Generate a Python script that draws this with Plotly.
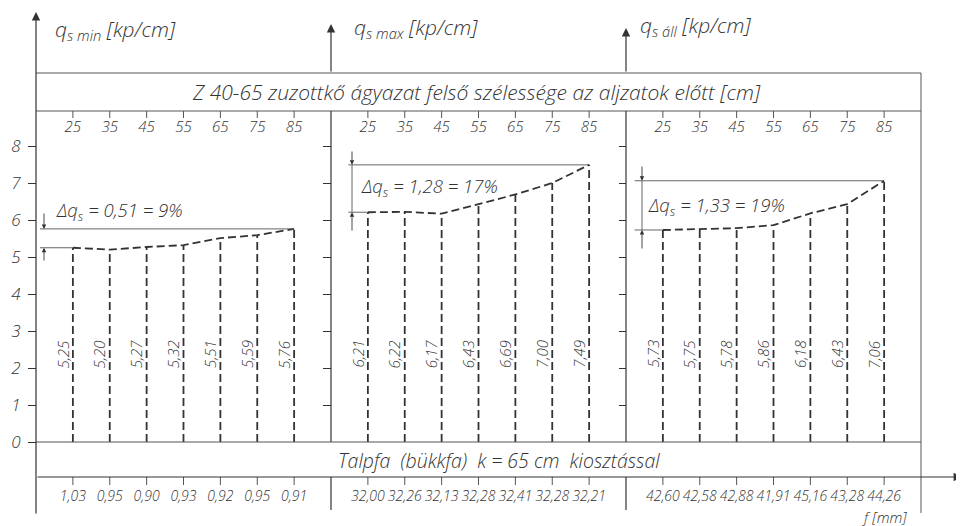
import plotly.graph_objects as go

# ---------------- data ----------------
widths = ["25", "35", "45", "55", "65", "75", "85"]          # ágyazat szélesség [cm]
qs_min = [5.25, 5.20, 5.27, 5.32, 5.51, 5.59, 5.76]
qs_max = [6.21, 6.22, 6.17, 6.43, 6.69, 7.00, 7.49]
qs_all = [5.73, 5.75, 5.78, 5.86, 6.18, 6.43, 7.06]
f_min = ["1,03", "0,95", "0,90", "0,93", "0,92", "0,95", "0,91"]
f_max = ["32,00", "32,26", "32,13", "32,28", "32,41", "32,28", "32,21"]
f_all = ["42,60", "42,58", "42,88", "41,91", "45,16", "43,28", "44,26"]
panel_titles = ["q<sub>s min</sub> [kp/cm]", "q<sub>s max</sub> [kp/cm]", "q<sub>s áll</sub> [kp/cm]"]
delta_texts = ["0,51 = 9%", "1,28 = 17%", "1,33 = 19%"]
y_ticks = [0, 1, 2, 3, 4, 5, 6, 7, 8]
top_text = "Z 40-65 zuzottkő ágyazat felső szélessége az aljzatok előtt [cm]"
bottom_text = "Talpfa  (bükkfa)  k = 65 cm  kiosztással"

# ---------------- geometry (reference pixel frame; page has an 8px body margin) ----------------
PAGE_W, PAGE_H, OFF = 964, 526, 8
W, H = PAGE_W - OFF, PAGE_H - OFF
ux = (921 - 36) / 24.0
uy = 37.0


def py(p):  # reference pixel row -> data y
    return (442 - p) / uy


def px(p):  # reference pixel col -> data x
    return (p - 36) / ux


xr = [px(OFF), px(PAGE_W)]
yr = [py(PAGE_H), py(OFF)]

INK = "#333333"
THIN = "#555555"
FONT = "Open Sans"

series = [qs_min, qs_max, qs_all]
fvals = [f_min, f_max, f_all]
offsets = [0, 8, 16]

fig = go.Figure()
shapes = []
annotations = []


def hline(x0, x1, y, w=1.0, c=THIN):
    shapes.append(dict(type="line", xref="x", yref="y", x0=x0, x1=x1, y0=y, y1=y,
                       line=dict(color=c, width=w)))


def vline(x, y0, y1, w=1.0, c=THIN):
    shapes.append(dict(type="line", xref="x", yref="y", x0=x, x1=x, y0=y0, y1=y1,
                       line=dict(color=c, width=w)))


def arrow(hx, hy, tx, ty, w=1.0, size=1.0, head=2, c=INK):
    annotations.append(dict(x=hx, y=hy, ax=tx, ay=ty, xref="x", yref="y", axref="x", ayref="y",
                            text="", showarrow=True, arrowhead=head, arrowsize=size,
                            arrowwidth=w, arrowcolor=c))


tfont = dict(family=FONT, size=14, color=INK, style="italic", weight=300)

for k in range(3):
    off = offsets[k]
    xs = [off + 1 + i for i in range(7)]
    vals = series[k]
    vx, vy = [], []
    for x, v in zip(xs, vals):
        vx += [x, x, None]
        vy += [0, v, None]
    fig.add_trace(go.Scatter(x=vx, y=vy, mode="lines", showlegend=False, hoverinfo="skip",
                             line=dict(color=INK, width=1.8, dash="8px,4px")))
    fig.add_trace(go.Scatter(x=xs, y=vals, mode="lines", showlegend=False, hoverinfo="skip",
                             line=dict(color=INK, width=1.8, dash="8px,4px")))
    # top category labels
    fig.add_trace(go.Scatter(x=xs, y=[py(128)] * 7, mode="text", text=widths, showlegend=False,
                             hoverinfo="skip", textfont=dict(tfont, size=15)))
    # bottom f labels
    fig.add_trace(go.Scatter(x=xs, y=[py(497)] * 7, mode="text", text=fvals[k], showlegend=False,
                             hoverinfo="skip", textfont=dict(tfont, size=14)))
    # value labels (rotated)
    for x, v in zip(xs, vals):
        annotations.append(dict(x=x - 0.28, y=py(354), xref="x", yref="y", showarrow=False,
                                text=f"{v:.2f}".replace(".", ","), textangle=-90,
                                font=dict(tfont, size=15)))
    # tick marks in bands
    for x in xs:
        vline(x, py(111), py(118))
        vline(x, py(477), py(485))

# ---------- Δq annotations ----------
# panel 1
hline(px(40), 7, qs_min[6], 0.9)
hline(px(40), 1, qs_min[0], 0.9)
arrow(px(44), qs_min[6], px(44), py(212), w=0.9, size=1.0)
arrow(px(44), qs_min[0], px(44), py(262), w=0.9, size=1.0)
# panel 2
x2 = px(352)
hline(x2 - 0.1, 15, qs_max[6], 0.9)
hline(x2 - 0.1, 9, qs_max[0], 0.9)
vline(x2, qs_max[0], qs_max[6], 0.9)
arrow(x2, qs_max[6], x2, py(150), w=0.9)
arrow(x2, qs_max[0], x2, py(232), w=0.9)
# panel 3
x3 = px(642)
hline(x3 - 0.2, 23, qs_all[6], 0.9)
hline(x3 - 0.2, 17, qs_all[0], 0.9)
vline(x3, qs_all[0], qs_all[6], 0.9)
arrow(x3, qs_all[6], x3, py(165), w=0.9)
arrow(x3, qs_all[0], x3, py(250), w=0.9)

dpos = [(px(54), py(211)), (px(359), py(187)), (px(646), py(206))]
for (dx, dy), t in zip(dpos, delta_texts):
    annotations.append(dict(x=dx, y=dy, xref="x", yref="y", xanchor="left", showarrow=False,
                            text="Δq<sub>s</sub> = " + t, font=dict(tfont, size=18.5)))

# ---------- axis titles ----------
tpos = [(px(53), py(30)), (px(352), py(28)), (px(638), py(26))]
for (tx, ty), t in zip(tpos, panel_titles):
    annotations.append(dict(x=tx, y=ty, xref="x", yref="y", xanchor="left", showarrow=False,
                            text=t, font=dict(tfont, size=21)))

# ---------- frame ----------
hline(0, 24, py(73))
hline(0, 24, py(111))
hline(0, 24, 0, 1.0)
vline(24, py(73), py(513))
# left axis arrow
arrow(0, py(12), 0, py(515), w=1.2, size=1.4)
# middle / right axis lines (interrupted by the text bands)
for xb, tip in [(8, py(24)), (16, py(28))]:
    arrow(xb, tip, xb, py(73), w=1.2, size=1.4)
    vline(xb, py(111), 0, 1.2, INK)
    vline(xb, py(477), py(510), 1.2, INK)
# horizontal f axis arrow
arrow(px(962), py(477), 0, py(477), w=1.2, size=1.4)

annotations.append(dict(x=px(476), y=py(92), xref="x", yref="y", showarrow=False,
                        text=top_text, font=dict(tfont, size=21)))
annotations.append(dict(x=px(499), y=py(460), xref="x", yref="y", showarrow=False,
                        text=bottom_text, font=dict(tfont, size=19.5)))
annotations.append(dict(x=px(884), y=py(516.5), xref="x", yref="y", showarrow=False,
                        text="f [mm]", font=dict(tfont, size=15)))

# dummy traces for the extra tick axes
for ya in ["y2", "y3"]:
    fig.add_trace(go.Scatter(x=[0], y=[0], yaxis=ya, mode="markers", showlegend=False,
                             hoverinfo="skip", marker=dict(opacity=0)))

common_y = dict(range=yr, showgrid=False, zeroline=False, showline=False, ticks="outside",
                tickcolor=INK, tickwidth=1, fixedrange=True)
fig.update_layout(
    width=W, height=H,
    margin=dict(l=0, r=0, t=0, b=0),
    paper_bgcolor="white", plot_bgcolor="white",
    xaxis=dict(range=xr, visible=False, domain=[0, 1], fixedrange=True),
    yaxis=dict(common_y, tickvals=y_ticks, ticklen=8, anchor="free", position=(36 - OFF) / W,
               tickfont=dict(family=FONT, size=17, color=INK, style="italic", weight=300),
               ticklabelstandoff=4),
    yaxis2=dict(common_y, tickvals=y_ticks[1:], ticklen=8, overlaying="y", anchor="free",
                position=(36 + 8 * ux - OFF) / W, showticklabels=False),
    yaxis3=dict(common_y, tickvals=y_ticks[1:], ticklen=7, overlaying="y", anchor="free",
                position=(36 + 16 * ux - OFF) / W, showticklabels=False),
    shapes=shapes,
    annotations=annotations,
    showlegend=False,
)

fig.write_html("out.html")
